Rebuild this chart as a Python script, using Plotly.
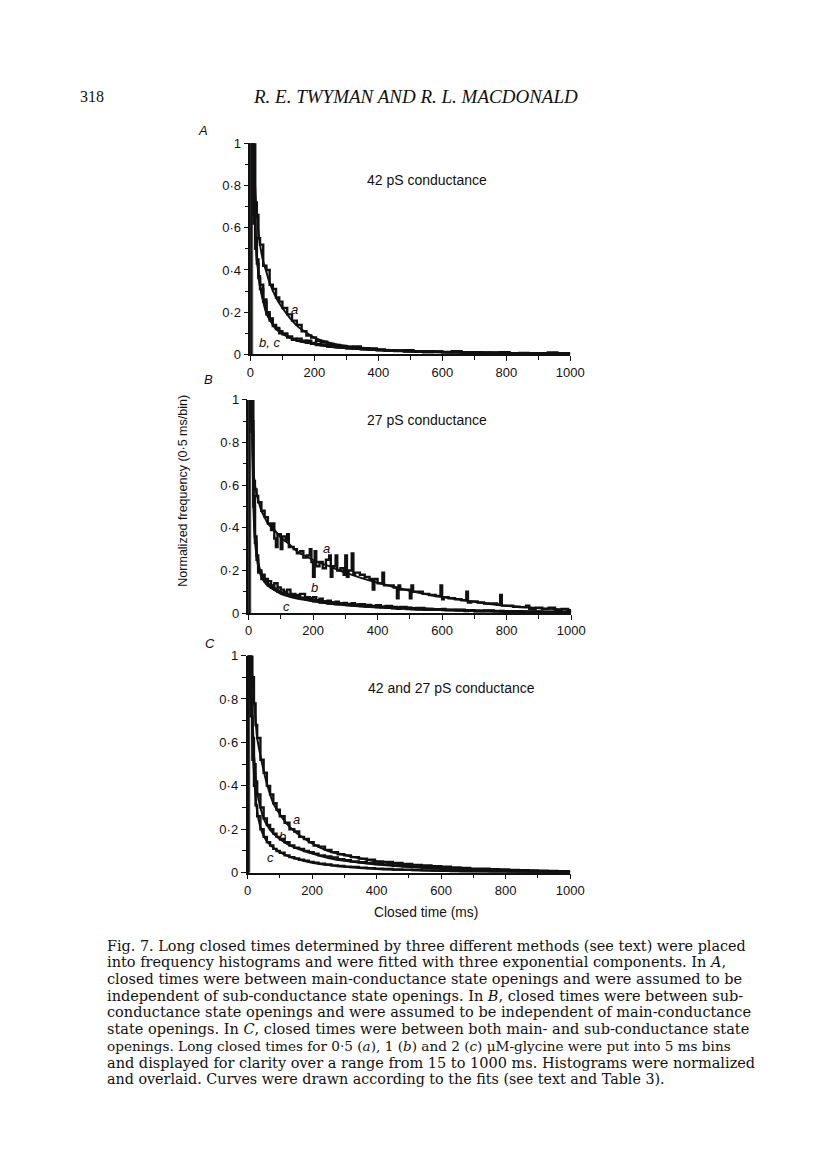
import re
import plotly.graph_objects as go

W, H = 816, 1166

# ---------------- data ----------------
fit_x = [10, 15, 20, 25, 30, 40, 50, 60, 80, 100, 125, 150, 200, 250, 300, 400, 500, 600, 800, 1000]

fitA_a = [1.0, 0.78, 0.66, 0.58, 0.52, 0.44, 0.39, 0.34, 0.27, 0.22, 0.17, 0.13, 0.08, 0.055, 0.04, 0.025, 0.017, 0.012, 0.007, 0.004]
fitA_b = [1.0, 0.62, 0.47, 0.39, 0.33, 0.26, 0.2, 0.17, 0.125, 0.1, 0.08, 0.065, 0.05, 0.037, 0.03, 0.021, 0.016, 0.012, 0.007, 0.004]
fitA_c = [1.0, 0.6, 0.46, 0.38, 0.32, 0.25, 0.195, 0.165, 0.12, 0.097, 0.078, 0.063, 0.048, 0.036, 0.029, 0.02, 0.015, 0.011, 0.006, 0.003]

fitB_a = [1.0, 0.68, 0.6, 0.56, 0.53, 0.48, 0.45, 0.42, 0.39, 0.355, 0.325, 0.29, 0.25, 0.22, 0.19, 0.142, 0.105, 0.075, 0.034, 0.015]
fitB_b = [1.0, 0.57, 0.38, 0.3, 0.24, 0.185, 0.158, 0.14, 0.12, 0.1, 0.088, 0.078, 0.065, 0.052, 0.044, 0.032, 0.025, 0.018, 0.01, 0.005]
fitB_c = [1.0, 0.52, 0.34, 0.27, 0.22, 0.17, 0.145, 0.128, 0.108, 0.09, 0.078, 0.068, 0.055, 0.044, 0.037, 0.026, 0.019, 0.014, 0.007, 0.003]

fitC_a = [1.0, 0.9, 0.8, 0.7, 0.62, 0.54, 0.47, 0.41, 0.32, 0.27, 0.22, 0.185, 0.135, 0.1, 0.082, 0.052, 0.035, 0.023, 0.012, 0.006]
fitC_b = [1.0, 0.75, 0.55, 0.44, 0.37, 0.3, 0.25, 0.22, 0.18, 0.155, 0.13, 0.113, 0.088, 0.068, 0.055, 0.038, 0.026, 0.018, 0.009, 0.004]
fitC_c = [1.0, 0.65, 0.45, 0.35, 0.28, 0.21, 0.17, 0.145, 0.115, 0.095, 0.077, 0.064, 0.046, 0.035, 0.027, 0.017, 0.012, 0.008, 0.004, 0.002]

# histogram bin left edges (ms) and normalized counts
binsA = [2, 10, 15, 20, 25, 30, 40, 50, 60, 70, 80, 90, 100, 115, 130, 145, 160, 175, 190, 205, 220,
         240, 260, 280, 300, 320, 345, 370, 395, 420, 450, 480, 510, 540, 570, 600, 630, 660, 690,
         720, 750, 780, 810, 840, 870, 900, 930, 960, 990]
histA_a = [1.05, 1.0, 0.72, 0.66, 0.55, 0.52, 0.42, 0.40, 0.33, 0.31, 0.27, 0.25, 0.22, 0.19, 0.16,
           0.14, 0.11, 0.09, 0.08, 0.065, 0.06, 0.05, 0.045, 0.04, 0.035, 0.038, 0.03, 0.025, 0.022,
           0.02, 0.018, 0.02, 0.014, 0.015, 0.013, 0.012, 0.016, 0.01, 0.01, 0.008, 0.009, 0.011,
           0.006, 0.007, 0.005, 0.006, 0.01, 0.006, 0.004]
histA_b = [1.05, 0.66, 0.55, 0.45, 0.37, 0.33, 0.25, 0.2, 0.17, 0.14, 0.12, 0.11, 0.095, 0.085, 0.07,
           0.075, 0.06, 0.065, 0.05, 0.05, 0.045, 0.04, 0.04, 0.035, 0.03, 0.032, 0.025, 0.028, 0.02,
           0.02, 0.016, 0.015, 0.013, 0.012, 0.014, 0.01, 0.012, 0.008, 0.009, 0.007, 0.006, 0.008,
           0.005, 0.006, 0.004, 0.005, 0.004, 0.006, 0.003]
histA_c = [1.05, 0.62, 0.5, 0.43, 0.36, 0.31, 0.26, 0.19, 0.16, 0.135, 0.125, 0.1, 0.1, 0.08, 0.075,
           0.065, 0.065, 0.055, 0.055, 0.045, 0.048, 0.038, 0.035, 0.037, 0.03, 0.028, 0.027, 0.024,
           0.022, 0.018, 0.018, 0.014, 0.015, 0.011, 0.012, 0.011, 0.01, 0.009, 0.008, 0.008, 0.007,
           0.006, 0.006, 0.005, 0.005, 0.004, 0.005, 0.003, 0.004]

binsB_a = [2, 10, 15, 20, 25, 30, 40, 50, 60, 70,
           75, 80, 85, 90, 100, 105, 115, 120, 125, 140,
           150, 160, 170, 180, 190, 195, 200, 205, 210, 220,
           230, 240, 250, 255, 260, 270, 275, 285, 295, 300,
           305, 310, 320, 325, 330, 345, 360, 375, 385, 390,
           400, 415, 420, 435, 450, 460, 465, 470, 485, 500,
           505, 510, 525, 540, 560, 580, 595, 600, 605, 620,
           640, 660, 675, 680, 690, 710, 730, 750, 770, 780,
           785, 800, 820, 840, 860, 870, 890, 910, 930, 950,
           970, 990]
histB_a = [1.05, 1.0, 0.62, 0.58, 0.55, 0.52, 0.48, 0.45, 0.42, 0.39,
           0.42, 0.35, 0.31, 0.37, 0.30, 0.36, 0.34, 0.37, 0.31, 0.30,
           0.28, 0.29, 0.26, 0.27, 0.30, 0.24, 0.17, 0.29, 0.22, 0.24,
           0.21, 0.25, 0.27, 0.17, 0.22, 0.27, 0.20, 0.21, 0.18, 0.27,
           0.17, 0.20, 0.28, 0.18, 0.19, 0.18, 0.17, 0.16, 0.11, 0.16,
           0.14, 0.19, 0.13, 0.13, 0.12, 0.07, 0.13, 0.11, 0.11, 0.07,
           0.13, 0.10, 0.10, 0.09, 0.085, 0.08, 0.13, 0.065, 0.075, 0.07,
           0.065, 0.06, 0.10, 0.05, 0.055, 0.05, 0.045, 0.045, 0.04, 0.085,
           0.035, 0.035, 0.03, 0.028, 0.035, 0.02, 0.025, 0.02, 0.025, 0.015,
           0.02, 0.012]

binsB = [2, 10, 15, 20, 25, 30, 40, 50, 60, 70, 80, 90, 100, 110, 120, 130, 145, 160, 175, 190,
         200, 210, 220, 230, 245, 255, 270, 280, 295, 305, 320, 330, 345, 360, 380, 395, 410, 425,
         445, 460, 470, 490, 505, 520, 545, 570, 600, 610, 640, 670, 680, 700, 730, 760, 780, 790,
         820, 850, 880, 910, 940, 970, 990]
histB_b = [1.05, 0.9, 0.55, 0.36, 0.27, 0.2, 0.18, 0.16, 0.15, 0.13,
           0.14, 0.12, 0.11, 0.1, 0.11, 0.09, 0.085, 0.09, 0.075, 0.07,
           0.075, 0.06, 0.068, 0.055, 0.058, 0.05, 0.053, 0.045, 0.048, 0.043,
           0.047, 0.04, 0.042, 0.038, 0.034, 0.037, 0.03, 0.033, 0.029, 0.025,
           0.029, 0.025, 0.022, 0.024, 0.02, 0.018, 0.02, 0.015, 0.016, 0.012,
           0.014, 0.01, 0.012, 0.009, 0.01, 0.008, 0.009, 0.007, 0.008, 0.006,
           0.007, 0.005, 0.005]
histB_c = [1.05, 0.85, 0.5, 0.33, 0.25, 0.19, 0.16, 0.15, 0.13, 0.12,
           0.11, 0.1, 0.095, 0.09, 0.085, 0.08, 0.075, 0.07, 0.065, 0.06,
           0.055, 0.058, 0.05, 0.052, 0.045, 0.048, 0.042, 0.044, 0.04, 0.038,
           0.036, 0.037, 0.033, 0.031, 0.03, 0.028, 0.027, 0.025, 0.022, 0.02,
           0.022, 0.019, 0.018, 0.017, 0.016, 0.015, 0.014, 0.013, 0.012, 0.01,
           0.011, 0.009, 0.008, 0.008, 0.007, 0.006, 0.006, 0.005, 0.005, 0.004,
           0.004, 0.003, 0.003]

binsC = [2, 10, 15, 20, 25, 30, 40, 50, 60, 70, 80, 90, 100, 115, 130, 145, 160, 175, 190, 205, 220,
         240, 260, 280, 300, 320, 345, 370, 395, 420, 450, 480, 510, 540, 570, 600, 630, 660, 690,
         720, 750, 780, 810, 840, 870, 900, 930, 960, 990]
histC_a = [1.05, 1.0, 0.9, 0.78, 0.68, 0.62, 0.52, 0.46, 0.4, 0.36, 0.32, 0.29, 0.26,
           0.23, 0.2, 0.19, 0.165, 0.155, 0.14, 0.125, 0.12,
           0.105, 0.095, 0.085, 0.08, 0.072,
           0.065, 0.06, 0.052, 0.05,
           0.045, 0.04, 0.036, 0.033, 0.03, 0.028,
           0.024, 0.022, 0.019, 0.018, 0.016, 0.015,
           0.013, 0.012, 0.01, 0.009, 0.008, 0.007, 0.006]
histC_b = [1.05, 0.8, 0.62, 0.5, 0.42, 0.36, 0.3, 0.25, 0.22, 0.2, 0.18, 0.165, 0.155,
           0.14, 0.125, 0.115, 0.11, 0.1, 0.095, 0.088, 0.08,
           0.075, 0.07, 0.062, 0.058, 0.052,
           0.048, 0.044, 0.04, 0.036,
           0.032, 0.03, 0.026, 0.024, 0.021, 0.019,
           0.017, 0.015, 0.014, 0.012, 0.011, 0.01,
           0.009, 0.008, 0.007, 0.006, 0.005, 0.005, 0.004]
histC_c = [1.05, 0.72, 0.52, 0.4, 0.31, 0.26, 0.2, 0.165, 0.14, 0.125, 0.11, 0.1, 0.092,
           0.08, 0.072, 0.066, 0.06, 0.055, 0.05, 0.046, 0.042,
           0.038, 0.034, 0.031, 0.028, 0.026,
           0.023, 0.021, 0.019, 0.017,
           0.015, 0.014, 0.012, 0.011, 0.01, 0.009,
           0.008, 0.007, 0.006, 0.006, 0.005, 0.005,
           0.004, 0.004, 0.003, 0.003, 0.003, 0.002, 0.002]

x_tickvals = [0, 200, 400, 600, 800, 1000]
x_ticktext = ["0", "200", "400", "600", "800", "1000"]
y_tickvals = [0, 0.2, 0.4, 0.6, 0.8, 1.0]
y_ticktext = ["0", "0·2", "0·4", "0·6", "0·8", "1"]

panel_titles = ["42 pS conductance", "27 pS conductance", "42 and 27 pS conductance"]
panel_letters = ["A", "B", "C"]

caption_lines = [
    "Fig. 7. Long closed times determined by three different methods (see text) were placed",
    "into frequency histograms and were fitted with three exponential components. In <i>A</i>,",
    "closed times were between main-conductance state openings and were assumed to be",
    "independent of sub-conductance state openings. In <i>B</i>, closed times were between sub-",
    "conductance state openings and were assumed to be independent of main-conductance",
    "state openings. In <i>C</i>, closed times were between both main- and sub-conductance state",
    "openings. Long closed times for 0·5 (<i>a</i>), 1 (<i>b</i>) and 2 (<i>c</i>) μM-glycine were put into 5 ms bins",
    "and displayed for clarity over a range from 15 to 1000 ms. Histograms were normalized",
    "and overlaid. Curves were drawn according to the fits (see text and Table 3).",
]

# ---------------- figure ----------------
INK = "#111111"
SANS = "Liberation Sans, Arial, sans-serif"
SERIF = "Liberation Serif, Times New Roman, serif"
CAPTION_FONT = "DejaVu Serif, serif"


def px(x):          # page pixel -> paper fraction
    return x / W


def py(y):
    return 1 - y / H


panels = [
    dict(hists=[(binsA, histA_a), (binsA, histA_b), (binsA, histA_c)], fits=[fitA_a, fitA_b, fitA_c],
         xd=[252, 579], yd=[352, 138]),
    dict(hists=[(binsB_a, histB_a), (binsB, histB_b), (binsB, histB_c)], fits=[fitB_a, fitB_b, fitB_c],
         xd=[250, 580], yd=[614, 398]),
    dict(hists=[(binsC, histC_a), (binsC, histC_b), (binsC, histC_c)], fits=[fitC_a, fitC_b, fitC_c],
         xd=[249, 579], yd=[877, 657]),
]

fig = go.Figure()
layout = {}
shapes = []

for i, p in enumerate(panels):
    k = "" if i == 0 else str(i + 1)
    xa, ya = "x" + k, "y" + k
    b0 = p["hists"][0][0]
    # first (off-scale) bin shaded strip
    shapes.append(dict(type="rect", xref=xa, yref=ya, x0=b0[0], x1=b0[1], y0=0, y1=1,
                       fillcolor="#c4c4c4", line=dict(width=0), layer="below"))
    for bins, h in p["hists"]:
        hx = [bins[0]] + list(bins) + [1000]
        hy = [0] + list(h) + [h[-1]]
        fig.add_trace(go.Scatter(x=hx, y=hy, mode="lines", line=dict(color=INK, width=2.4, shape="hv"),
                                 xaxis=xa, yaxis=ya, showlegend=False, hoverinfo="skip"))
    for f in p["fits"]:
        fig.add_trace(go.Scatter(x=fit_x, y=f, mode="lines",
                                 line=dict(color=INK, width=2, shape="spline", smoothing=0.6),
                                 xaxis=xa, yaxis=ya, showlegend=False, hoverinfo="skip"))
    layout["xaxis" + k] = dict(
        domain=[px(p["xd"][0]), px(p["xd"][1])], anchor=ya, range=[0, 1000],
        showgrid=False, zeroline=False, showline=True, linecolor=INK, linewidth=1.5,
        ticks="outside", ticklen=5, tickwidth=1.2, tickcolor=INK,
        tickvals=x_tickvals, ticktext=x_ticktext,
        minor=dict(dtick=100, tick0=0, ticks="outside", ticklen=4, tickwidth=1.1, tickcolor=INK),
        tickfont=dict(family=SANS, size=13, color=INK),
    )
    layout["yaxis" + k] = dict(
        domain=[py(p["yd"][0]), py(p["yd"][1])], anchor=xa, range=[0, 1],
        showgrid=False, zeroline=False, showline=True, linecolor=INK, linewidth=1.5,
        ticks="outside", ticklen=5, tickwidth=1.2, tickcolor=INK,
        tickvals=y_tickvals, ticktext=y_ticktext,
        minor=dict(dtick=0.1, tick0=0, ticks="outside", ticklen=4, tickwidth=1.1, tickcolor=INK),
        tickfont=dict(family=SANS, size=13, color=INK),
    )

annotations = []


def ann(text, x, y, size, family=SANS, xanchor="center", yanchor="middle", angle=0, italic=False):
    annotations.append(dict(text=text, x=px(x), y=py(y), xref="paper", yref="paper",
                            showarrow=False, xanchor=xanchor, yanchor=yanchor, textangle=angle,
                            borderpad=0,
                            font=dict(family=family, size=size, color=INK,
                                      style="italic" if italic else "normal")))


# running head
ann("318", 77, 91, 16, family=SERIF, xanchor="left")
ann("R. E. TWYMAN AND R. L. MACDONALD", 421, 91, 19, family=SERIF, italic=True)

# panel letters and titles
for (lx, ly), letter in zip([(203, 125), (209, 377), (211, 645)], panel_letters):
    ann(letter, lx, ly, 13, italic=True)
for (tx, ty), t in zip([(433, 175), (433, 418), (458, 690)], panel_titles):
    ann(t, tx, ty, 14)

# curve labels
for (lx, ly), lab in zip([(297, 306), (271, 340), (330, 549), (317, 588), (289, 607),
                          (299, 823), (285, 840), (272, 862)],
                         ["a", "b, c", "a", "b", "c", "a", "b", "c"]):
    ann(lab, lx, ly, 13, italic=True)

# axis titles
ann("Normalized frequency (0·5 ms/bin)", 183, 490, 12.5, angle=-90)
ann("Closed time (ms)", 432, 917, 13.8)

# caption: justified block in the reference -> size each full line to the block width
BLOCK_W = 642
for j, line in enumerate(caption_lines):
    n = len(re.sub(r"<[^>]+>", "", line))
    if j == len(caption_lines) - 1:
        size = 14.3
    else:
        size = max(13.4, min(14.5, BLOCK_W / (0.52 * n)))
    ann(line, 104, 951 + j * 16.9, round(size, 1), family=CAPTION_FONT, xanchor="left")

fig.update_layout(
    width=W, height=H, margin=dict(l=0, r=0, t=0, b=0),
    paper_bgcolor="white", plot_bgcolor="white",
    showlegend=False, annotations=annotations, shapes=shapes,
    **layout,
)

fig.write_html(
    "out.html",
    config={"displayModeBar": False},
    post_script="document.body.style.margin='0';document.body.style.padding='0';",
)
